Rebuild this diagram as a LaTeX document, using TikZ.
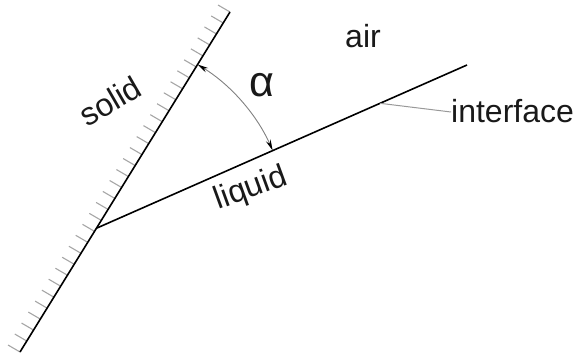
\documentclass[tikz,border=0pt]{standalone}
\usepackage{fontspec}
\setmainfont{Liberation Sans}
\usetikzlibrary{calc,arrows.meta}
\begin{document}
\begin{tikzpicture}[x=1pt,y=1pt,
  wall/.style={line width=1.6pt,black},
  hatchline/.style={line width=1.1pt,gray!70},
  dimarc/.style={line width=0.9pt,gray,{Stealth[length=11pt,width=5pt,black]}-{Stealth[length=11pt,width=5pt,black]}},
  leader/.style={line width=1pt,gray!80},
  lbl/.style={font=\fontsize{32}{36}\selectfont,text=black!90,inner sep=0pt}]
\useasboundingbox (0,0) rectangle (582,360);
\coordinate (T) at (230,348);
\coordinate (B) at (20,8);
\coordinate (C) at (97,132);
\coordinate (E) at (467,295);
% hatches
\foreach \i in {0,...,31}{
  \draw[hatchline] ($(T)!\i/31!(B)$) -- ++(-12,7);
}
\draw[wall] (T) -- (B);
\draw[wall] (C) -- (E);
% angle arc
\coordinate (A1) at ($(C)+(58.4:192)$);
\draw[dimarc] (A1) arc[start angle=58.4,end angle=23.8,radius=192];
% labels
\node[lbl,font=\fontsize{43}{48}\selectfont] (alpha) at (262,275) {α};
\node[lbl,rotate=30] (solid) at (110,259) {solid};
\node[lbl,rotate=20] (liquid) at (251,171) {liquid};
\node[lbl,anchor=base] (air) at (363,313) {air};
\node[lbl,anchor=base west] (iface) at (451,238) {interface};
\coordinate (L) at ($(C)!0.765!(E)$);
\draw[leader] (L) -- (iface.west |- 0,248);
\end{tikzpicture}
\end{document}
